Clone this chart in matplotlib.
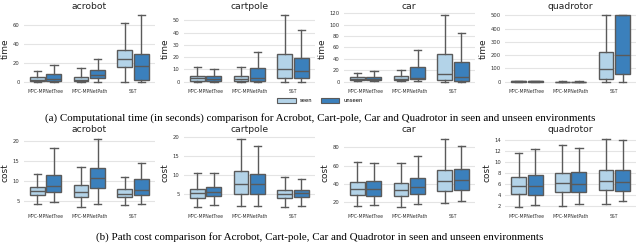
"""Box plots of planning time and path cost for four systems, seen vs unseen."""
import matplotlib
matplotlib.use("Agg")
import matplotlib.pyplot as plt
from matplotlib.patches import Patch

envs = ["acrobot", "cartpole", "car", "quadrotor"]
methods = ["MPC-MPNetTree", "MPC-MPNetPath", "SST"]
splits = ["seen", "unseen"]

# each entry: [whislo, q1, median, q3, whishi] for (method, split)
time_acrobot = [[0, 1, 2, 5, 11], [0, 1, 3, 8, 18],
                [0, 1, 2, 5, 14], [0, 4, 7, 12, 24],
                [0, 16, 24, 34, 62], [0, 2, 17, 29, 70]]
time_cartpole = [[0, 1, 3, 5, 12], [0, 1, 2, 5, 10],
                 [0, 1, 2, 5, 12], [0, 1, 3, 11, 24],
                 [0, 3, 10, 23, 54], [0, 3, 9, 19, 42]]
time_car = [[1, 3, 5, 9, 16], [1, 3, 5, 9, 18],
            [1, 3, 5, 10, 21], [1, 5, 7, 25, 56],
            [0, 3, 13, 48, 116], [0, 1, 9, 35, 85]]
time_quadrotor = [[0, 1, 2, 3, 5], [0, 1, 2, 3, 5],
                  [0, 0.5, 1, 1.5, 2], [0, 0.5, 1, 1.5, 2],
                  [0, 20, 95, 225, 500], [0, 60, 205, 500, 500]]

cost_acrobot = [[4.2, 6.5, 7.5, 8.5, 11.7], [4.8, 7.1, 8.7, 11.5, 18.2],
                [3.5, 6.0, 7.3, 9.0, 13.5], [4.2, 8.3, 10.7, 13.2, 20.4],
                [3.9, 6.0, 6.8, 8.0, 10.9], [4.3, 6.4, 7.8, 10.4, 14.5]]
cost_cartpole = [[1.7, 4.0, 5.3, 6.4, 10.7], [2.1, 4.6, 5.5, 7.0, 10.6],
                 [1.8, 5.2, 7.8, 11.0, 19.5], [2.0, 5.2, 7.6, 10.4, 17.8],
                 [1.7, 3.9, 5.1, 6.2, 9.6], [2.0, 4.2, 5.3, 6.2, 9.1]]
cost_car = [[16, 28, 35, 42, 64], [17, 27, 34, 43, 63],
            [15, 27, 33, 41, 63], [18, 29, 37, 47, 71],
            [19, 32, 43, 55, 89], [21, 33, 44, 56, 82]]
cost_quadrotor = [[1.8, 4.2, 5.7, 7.3, 11.6], [2.1, 4.0, 5.6, 7.6, 12.4],
                  [2.0, 4.5, 6.1, 8.0, 13.1], [2.4, 4.5, 6.0, 8.1, 12.6],
                  [2.3, 4.8, 6.6, 8.6, 14.2], [2.8, 4.7, 6.3, 8.6, 14.0]]

time_data = [time_acrobot, time_cartpole, time_car, time_quadrotor]
cost_data = [cost_acrobot, cost_cartpole, cost_car, cost_quadrotor]

time_ticks = [[0, 20, 40, 60], [0, 10, 20, 30, 40, 50],
              [0, 20, 40, 60, 80, 100, 120], [0, 100, 200, 300, 400, 500]]
cost_ticks = [[5, 10, 15, 20], [5, 10, 15, 20],
              [20, 40, 60, 80], [2, 4, 6, 8, 10, 12, 14]]

caption_a = ("(a) Computational time (in seconds) comparison for Acrobot, "
             "Cart-pole, Car and Quadrotor in seen and unseen environments")
caption_b = ("(b) Path cost comparison for Acrobot, Cart-pole, Car and "
             "Quadrotor in seen and unseen environments")

colors = {"seen": "#b3d3e8", "unseen": "#3b80bc"}
edge = "#5a5a5a"
grid = "#e4e4e4"


def draw_panel(ax, rows, title, ylabel, ticks):
    stats, pos, faces = [], [], []
    k = 0
    for i, m in enumerate(methods):
        for j, s in enumerate(splits):
            lo, q1, med, q3, hi = rows[k]
            k += 1
            stats.append(dict(whislo=lo, q1=q1, med=med, q3=q3, whishi=hi,
                              fliers=[], label=m))
            pos.append(i + (-0.19 if j == 0 else 0.19))
            faces.append(colors[s])
    bp = ax.bxp(stats, positions=pos, widths=0.34, patch_artist=True,
                showfliers=False,
                boxprops=dict(edgecolor=edge, linewidth=1.0),
                whiskerprops=dict(color=edge, linewidth=1.0),
                capprops=dict(color=edge, linewidth=1.0),
                medianprops=dict(color=edge, linewidth=1.0))
    for patch, fc in zip(bp["boxes"], faces):
        patch.set_facecolor(fc)
    for cap in bp["caps"]:
        x0, x1 = cap.get_xdata()
        c = (x0 + x1) / 2
        cap.set_xdata([c - 0.085, c + 0.085])
    ax.set_xlim(-0.5, 2.5)
    ax.set_xticks(range(len(methods)))
    ax.set_xticklabels(methods, fontsize=3.3, color="#333333")
    ax.set_yticks(ticks)
    ax.tick_params(axis="y", labelsize=3.8, colors="#333333", length=0, pad=3)
    ax.tick_params(axis="x", length=0, pad=3)
    ax.set_title(title, fontsize=6.7, pad=2.5, color="#222222")
    ax.set_ylabel(ylabel, fontsize=6.5, labelpad=2, color="#222222")
    ax.grid(axis="y", color=grid, linewidth=0.8)
    ax.set_axisbelow(True)
    for sp in ax.spines.values():
        sp.set_visible(False)


fig = plt.figure(figsize=(6.4, 2.43), dpi=100)
lefts = [0.037, 0.287, 0.537, 0.789]
w = 0.205
for n, env in enumerate(envs):
    ax = fig.add_axes([lefts[n], 0.650, w, 0.300])
    draw_panel(ax, time_data[n], env, "time", time_ticks[n])
    ax = fig.add_axes([lefts[n], 0.135, w, 0.306])
    draw_panel(ax, cost_data[n], env, "cost", cost_ticks[n])

handles = [Patch(facecolor=colors[s], edgecolor=edge, linewidth=0.8, label=s)
           for s in splits]
fig.legend(handles=handles, loc="center", bbox_to_anchor=(0.5, 0.585), ncol=2,
           frameon=False, fontsize=3.8, handlelength=3.5, handleheight=0.9,
           columnspacing=1.5)

fig.text(0.5, 1 - 118 / 243, caption_a, ha="center", va="center",
         fontsize=7.9, family="Liberation Serif")
fig.text(0.5, 1 - 237 / 243, caption_b, ha="center", va="center",
         fontsize=7.9, family="Liberation Serif")

fig.savefig("out.png", dpi=100)
